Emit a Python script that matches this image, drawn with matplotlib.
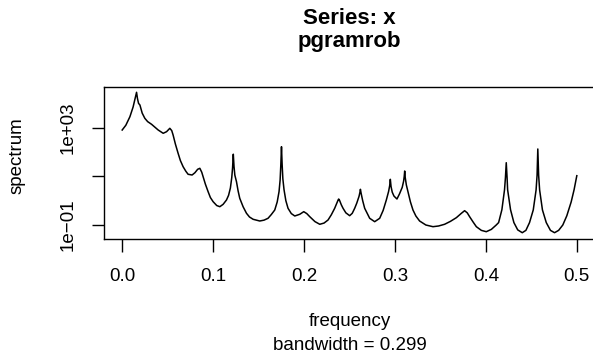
import numpy as np
import matplotlib
matplotlib.use("Agg")
import matplotlib.pyplot as plt
from matplotlib.ticker import NullLocator

plt.rcParams['font.family'] = ['Liberation Sans', 'DejaVu Sans']

# spectrum (frequency, log10 of spectrum)
freq = [0.0000, 0.0040, 0.0085, 0.0120, 0.0145, 0.0158, 0.0168, 0.0180, 0.0195, 0.0220,
        0.0249, 0.0280, 0.0323, 0.0360, 0.0396, 0.0451, 0.0488, 0.0524, 0.0545, 0.0560,
        0.0585, 0.0615, 0.0640, 0.0670, 0.0700, 0.0725, 0.0769, 0.0800, 0.0830, 0.0854,
        0.0875, 0.0890, 0.0915, 0.0945, 0.0970, 0.1000, 0.1040, 0.1074, 0.1110, 0.1147,
        0.1170, 0.1190, 0.1205, 0.1214, 0.1222, 0.1230, 0.1239, 0.1257, 0.1275, 0.1293,
        0.1330, 0.1367, 0.1400, 0.1440, 0.1513, 0.1560, 0.1604, 0.1640, 0.1678, 0.1705,
        0.1725, 0.1737, 0.1745, 0.1752, 0.1759, 0.1767, 0.1780, 0.1800, 0.1824, 0.1860,
        0.1898, 0.1953, 0.1997, 0.2030, 0.2063, 0.2120, 0.2173, 0.2220, 0.2264, 0.2300,
        0.2337, 0.2360, 0.2375, 0.2381, 0.2390, 0.2410, 0.2429, 0.2460, 0.2502, 0.2530,
        0.2557, 0.2580, 0.2605, 0.2615, 0.2620, 0.2628, 0.2645, 0.2667, 0.2722, 0.2777,
        0.2832, 0.2870, 0.2905, 0.2930, 0.2942, 0.2949, 0.2957, 0.2970, 0.2989, 0.3022,
        0.3050, 0.3080, 0.3095, 0.3102, 0.3107, 0.3113, 0.3125, 0.3143, 0.3170, 0.3198,
        0.3230, 0.3271, 0.3340, 0.3418, 0.3480, 0.3546, 0.3610, 0.3675, 0.3730, 0.3766,
        0.3795, 0.3821, 0.3860, 0.3895, 0.3950, 0.4004, 0.4060, 0.4114, 0.4140, 0.4176,
        0.4205, 0.4215, 0.4224, 0.4233, 0.4239, 0.4271, 0.4308, 0.4350, 0.4400, 0.4440,
        0.4480, 0.4521, 0.4552, 0.4563, 0.4571, 0.4580, 0.4591, 0.4622, 0.4664, 0.4710,
        0.4755, 0.4800, 0.4846, 0.4890, 0.4938, 0.4970, 0.5000]
log_spec = [2.905, 3.100, 3.452, 3.850, 4.250, 4.455, 4.200, 4.000, 3.933, 3.600,
            3.386, 3.250, 3.140, 3.020, 2.905, 2.770, 2.836, 2.975, 2.880, 2.700,
            2.330, 1.948, 1.650, 1.397, 1.210, 1.085, 1.056, 1.150, 1.290, 1.331,
            1.170, 0.986, 0.680, 0.370, 0.130, -0.041, -0.200, -0.247, -0.150, 0.028,
            0.220, 0.520, 0.950, 1.350, 1.911, 1.400, 1.050, 0.781, 0.400, 0.098,
            -0.250, -0.518, -0.670, -0.765, -0.835, -0.800, -0.724, -0.570, -0.383, -0.050,
            0.370, 0.850, 1.500, 2.219, 1.500, 0.900, 0.450, 0.000, -0.313, -0.530,
            -0.629, -0.559, -0.452, -0.530, -0.658, -0.860, -0.970, -0.920, -0.794, -0.580,
            -0.313, -0.100, 0.030, 0.069, 0.020, -0.170, -0.313, -0.500, -0.617, -0.520,
            -0.313, -0.100, 0.180, 0.350, 0.468, 0.300, 0.000, -0.313, -0.724, -0.863,
            -0.724, -0.400, 0.028, 0.380, 0.620, 0.879, 0.580, 0.350, 0.190, 0.069,
            0.280, 0.550, 0.800, 1.000, 1.220, 0.950, 0.650, 0.370, -0.050, -0.383,
            -0.630, -0.835, -1.000, -1.069, -1.040, -0.970, -0.850, -0.699, -0.520, -0.411,
            -0.500, -0.658, -0.880, -1.069, -1.220, -1.275, -1.180, -0.999, -0.900, -0.370,
            0.450, 0.950, 1.561, 0.950, 0.450, -0.370, -0.900, -1.200, -1.316, -1.220,
            -0.900, -0.380, 0.440, 1.050, 2.125, 1.050, 0.440, -0.380, -0.900, -1.220,
            -1.316, -1.220, -0.999, -0.620, -0.050, 0.450, 1.027]
spec = [10 ** v for v in log_spec]

x_ticks = [0.0, 0.1, 0.2, 0.3, 0.4, 0.5]
x_labels = ['0.0', '0.1', '0.2', '0.3', '0.4', '0.5']
y_ticks = [1e-1, 1e1, 1e3]
y_labels = ['1e\u221201', '', '1e+03']

W, H = 593, 364
fig = plt.figure(figsize=(W / 100, H / 100), dpi=100)
# plot box in pixels: left 104, top 87, right 595 (past the edge), bottom 239
ax = fig.add_axes([104 / W, 1 - 239 / H, (595 - 104) / W, (239 - 87) / H])

ax.plot(freq, spec, color='black', linewidth=1.1)
ax.set_yscale('log')
ax.set_xlim(-0.02, 0.52)
ax.set_ylim(10 ** -1.575, 10 ** 4.673)

ax.yaxis.set_minor_locator(NullLocator())
ax.set_xticks(x_ticks)
ax.set_xticklabels(x_labels)
ax.set_yticks(y_ticks)
ax.set_yticklabels(y_labels, rotation=90, va='center', ha='right')
ax.tick_params(direction='out', length=9, width=1.0, labelsize=13.5, colors='black')
ax.tick_params(axis='x', pad=12)
ax.tick_params(axis='y', pad=10.5)
for s in ax.spines.values():
    s.set_linewidth(1.0)

fig.text(17 / W, 1 - 156 / H, 'spectrum', rotation=90, ha='center', va='center', fontsize=13.5)
fig.text(349.5 / W, 1 - 322 / H, 'frequency', ha='center', va='center', fontsize=13.5)
fig.text(349.5 / W, 1 - 345 / H, 'bandwidth = 0.299', ha='center', va='center', fontsize=13.5)
fig.text(349.5 / W, 1 - 19 / H, 'Series: x', ha='center', va='center', fontsize=16, fontweight='bold')
fig.text(349.5 / W, 1 - 42 / H, 'pgramrob', ha='center', va='center', fontsize=16, fontweight='bold')

fig.savefig('out.png', dpi=100)
